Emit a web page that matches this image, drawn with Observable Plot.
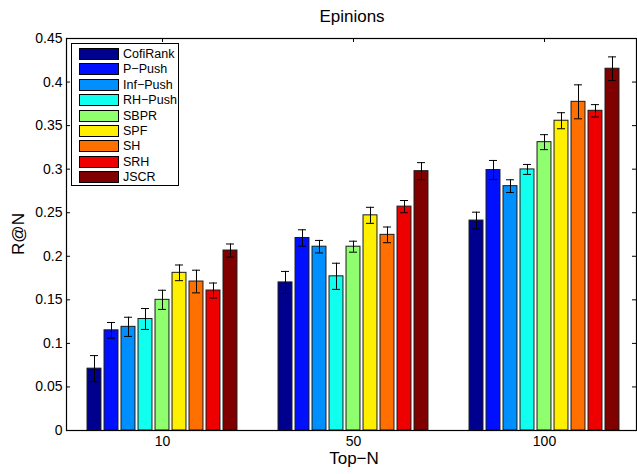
<!DOCTYPE html>
<html><head><meta charset="utf-8">
<script src="https://cdn.jsdelivr.net/npm/d3@7"></script>
<script src="https://cdn.jsdelivr.net/npm/@observablehq/plot@0.6"></script>
<style>
body{margin:0;background:#fff;font-family:"Liberation Sans",Arial,Helvetica,sans-serif}
#wrap{position:relative;width:637px;height:474px;overflow:hidden}
#wrap svg{position:absolute;left:0;top:0}
.t{position:absolute;color:#000;white-space:nowrap;line-height:1}
#legend{position:absolute;left:71px;top:43px;width:106px;height:141px;border:1px solid #000;background:#fff}
.row{position:absolute;left:7px;height:12px}
.sw{position:absolute;left:0;top:0;width:38px;height:10px;border:1px solid #000}
.lb{position:absolute;left:44px;top:-1px;font-size:12.5px;line-height:14px;white-space:nowrap}
</style></head><body><div id="wrap"></div>
<script>
// ---- data ----
const groups = ["10", "50", "100"];
const seriesNames = ["CofiRank", "P\u2212Push", "Inf\u2212Push", "RH\u2212Push", "SBPR", "SPF", "SH", "SRH", "JSCR"];
const seriesColors = ["#00008F", "#0010FF", "#008FFF", "#10FFEF", "#8FFF70", "#FFEF00", "#FF7000", "#EF0000", "#800000"];
const yTicks = [0, 0.05, 0.1, 0.15, 0.2, 0.25, 0.3, 0.35, 0.4, 0.45];

const cofiRank = [0.071, 0.170, 0.241];
const pPush    = [0.115, 0.221, 0.299];
const infPush  = [0.119, 0.211, 0.2805];
const rhPush   = [0.128, 0.177, 0.2997];
const sbpr     = [0.150, 0.211, 0.331];
const spf      = [0.181, 0.247, 0.3556];
const sh       = [0.171, 0.2246, 0.3773];
const srh      = [0.1607, 0.257, 0.367];
const jscr     = [0.2066, 0.2977, 0.4153];

const cofiRankErr = [0.015, 0.0126, 0.0096];
const pPushErr    = [0.009, 0.0094, 0.011];
const infPushErr  = [0.011, 0.0072, 0.0073];
const rhPushErr   = [0.012, 0.015, 0.0057];
const sbprErr     = [0.011, 0.0063, 0.0086];
const spfErr      = [0.009, 0.0092, 0.0092];
const shErr       = [0.013, 0.009, 0.0195];
const srhErr      = [0.0086, 0.007, 0.0071];
const jscrErr     = [0.0075, 0.0098, 0.0136];

const valueLists = [cofiRank, pPush, infPush, rhPush, sbpr, spf, sh, srh, jscr];
const errLists = [cofiRankErr, pPushErr, infPushErr, rhPushErr, sbprErr, spfErr, shErr, srhErr, jscrErr];

// ---- layout constants (x in group units) ----
const barStep = 0.089, barWidth = 0.073, capHalf = 0.021;
const W = 637, H = 474, mL = 66, mR = 1, mT = 38, mB = 44;
const frameW = W - mL - mR, frameH = H - mT - mB, tickLen = 4;

const table = [];
seriesNames.forEach((s, si) => {
  groups.forEach((g, gi) => {
    table.push({series: s, group: g, gi, si,
      value: valueLists[si][gi], err: errLists[si][gi],
      xc: gi + (si - (seriesNames.length - 1) / 2) * barStep});
  });
});
const groupIdx = groups.map((g, i) => i);

const chart = Plot.plot({
  width: W, height: H,
  marginLeft: mL, marginRight: mR, marginTop: mT, marginBottom: mB,
  style: {fontFamily: "'Liberation Sans', Arial, Helvetica, sans-serif", background: "transparent"},
  x: {domain: [-0.5026, 2.4817], axis: null},
  y: {domain: [0, 0.45], axis: null},
  color: {domain: seriesNames, range: seriesColors},
  marks: [
    Plot.tickY(yTicks, {y: d => d, insetRight: frameW - tickLen, stroke: "#000"}),
    Plot.tickY(yTicks, {y: d => d, insetLeft: frameW - tickLen, stroke: "#000"}),
    Plot.tickX(groupIdx, {x: d => d, insetBottom: frameH - tickLen, stroke: "#000"}),
    Plot.rectY(table, {x1: d => d.xc - barWidth / 2, x2: d => d.xc + barWidth / 2, y1: 0, y2: "value",
      fill: "series", stroke: "#1a1a1a", strokeWidth: 1}),
    Plot.ruleX(table, {x: "xc", y1: d => d.value - d.err, y2: d => d.value + d.err, stroke: "#000", strokeWidth: 1}),
    Plot.ruleY(table, {x1: d => d.xc - capHalf, x2: d => d.xc + capHalf, y: d => d.value + d.err, stroke: "#000", strokeWidth: 1}),
    Plot.ruleY(table, {x1: d => d.xc - capHalf, x2: d => d.xc + capHalf, y: d => d.value - d.err, stroke: "#000", strokeWidth: 1}),
    Plot.frame({stroke: "#000", strokeWidth: 1.2}),
    Plot.axisY(yTicks, {anchor: "left", tickSize: 0, tickPadding: 4, fontSize: 14, label: null,
      tickFormat: d => String(+d.toFixed(2))}),
    Plot.axisX(groupIdx, {anchor: "bottom", tickSize: 0, tickPadding: 6, fontSize: 14, label: null,
      tickFormat: i => groups[i]})
  ]
});

const wrap = document.getElementById("wrap");
wrap.appendChild(chart);

function addText(txt, css) {
  const d = document.createElement("div");
  d.className = "t"; d.textContent = txt;
  Object.assign(d.style, css);
  wrap.appendChild(d);
  return d;
}
addText("Epinions", {left: "352px", top: "8px", fontSize: "17px", transform: "translateX(-50%)"});
addText("Top\u2212N", {left: "354px", top: "450px", fontSize: "17px", transform: "translateX(-50%)"});
addText("R@N", {left: "18px", top: "234px", fontSize: "17px", transform: "translate(-50%,-50%) rotate(-90deg)"});

const legend = document.createElement("div");
legend.id = "legend";
seriesNames.forEach((s, i) => {
  const row = document.createElement("div");
  row.className = "row";
  row.style.top = (4 + i * 15.4) + "px";
  const sw = document.createElement("div");
  sw.className = "sw"; sw.style.background = seriesColors[i];
  const lb = document.createElement("div");
  lb.className = "lb"; lb.textContent = s;
  row.appendChild(sw); row.appendChild(lb);
  legend.appendChild(row);
});
wrap.appendChild(legend);
</script></body></html>
